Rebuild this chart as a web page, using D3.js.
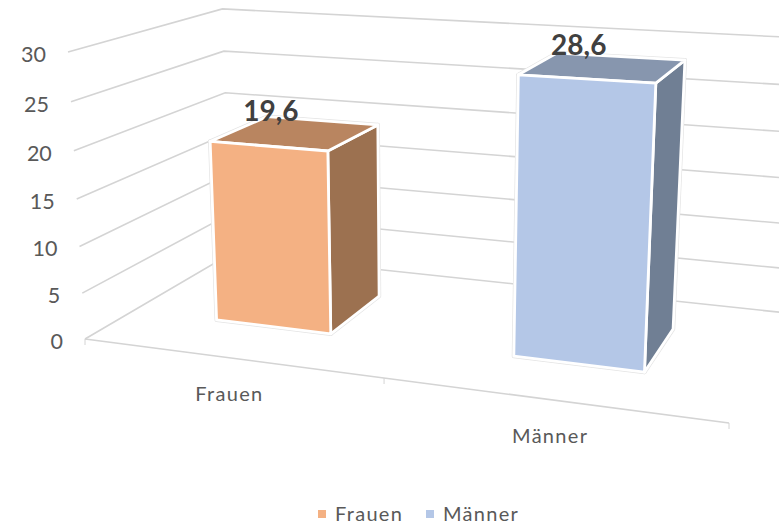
<!DOCTYPE html>
<html>
<head>
<meta charset="utf-8">
<script src="https://cdnjs.cloudflare.com/ajax/libs/d3/7.8.5/d3.min.js"></script>
<style>
  html, body { margin: 0; padding: 0; background: #fff; }
  svg { display: block; }
  text { font-family: Lato, "Open Sans", sans-serif; fill: #595959; }
</style>
</head>
<body>
<div class="chart"></div>
<script>
var width = 779;
var height = 526;

// data
var categories = ["Frauen", "Männer"];
var values = [19.6, 28.6];
var yTicks = [0, 5, 10, 15, 20, 25, 30];

// colors per category: front, top, side
var frontColors = ["#F4B183", "#B4C7E7"];
var topColors = ["#B98560", "#8796AE"];
var sideColors = ["#9C7150", "#707F94"];
var gridColor = "#d4d4d4";

const svg = d3.select(".chart")
  .append("svg")
  .attr("width", width)
  .attr("height", height);

// unit cube scales, u = along categories, v = up, t = into the picture
var xBand = d3.scaleBand().domain(categories).range([0, 1]).paddingInner(0.6).paddingOuter(0.3);
var yScale = d3.scaleLinear().domain([0, 30]).range([0, 1]);
var barDepth = [0.29, 0.68];
var wallDepth = 0.95;

// perspective of the 3d box, fitted on the cube corners
var corner0 = [85, 339];
var xEnd = [729, 423], xW = 0.867;
var yEnd = [68, 52], yW = 0.952;
var zEnd = [237, 250], zW = 1.19;

function project(u, v, t) {
  var w = 1 + u * (xW - 1) + v * (yW - 1) + t * (zW - 1);
  var px = corner0[0] + u * (xW * xEnd[0] - corner0[0]) + v * (yW * yEnd[0] - corner0[0]) + t * (zW * zEnd[0] - corner0[0]);
  var py = corner0[1] + u * (xW * xEnd[1] - corner0[1]) + v * (yW * yEnd[1] - corner0[1]) + t * (zW * zEnd[1] - corner0[1]);
  return [px / w, py / w];
}

var line = d3.line();
var closedLine = d3.line().curve(d3.curveLinearClosed);

// walls
var grid = svg.append("g").attr("fill", "none").attr("stroke", gridColor).attr("stroke-width", 1.6);
grid.selectAll("path")
  .data(yTicks)
  .enter()
  .append("path")
  .attr("d", d => {
    var v = yScale(d);
    return line([project(0, v, 0), project(0, v, wallDepth), project(1, v, wallDepth)]);
  });

// category axis with ticks
var axis = svg.append("g").attr("fill", "none").attr("stroke", gridColor).attr("stroke-width", 1.6);
axis.append("path").attr("d", line([project(0, 0, 0), project(1, 0, 0)]));
axis.selectAll(".tick")
  .data([0, 0.5, 1])
  .enter()
  .append("path")
  .attr("class", "tick")
  .attr("stroke-width", 1)
  .attr("d", d => {
    var p = project(d, 0, 0);
    return line([p, [p[0], p[1] + 6]]);
  });

// y labels
svg.append("g").selectAll("text")
  .data(yTicks)
  .enter()
  .append("text")
  .attr("text-anchor", "end")
  .attr("font-size", 21.5)
  .attr("x", d => project(0, yScale(d), 0)[0] - 22)
  .attr("y", d => project(0, yScale(d), 0)[1] + 10)
  .text(d => d);

// category labels
svg.append("g").selectAll("text")
  .data(categories)
  .enter()
  .append("text")
  .attr("text-anchor", "middle")
  .attr("font-size", 20)
  .attr("letter-spacing", 1.3)
  .attr("x", d => project(xBand(d) + xBand.bandwidth() / 2, 0, 0)[0])
  .attr("y", d => project(xBand(d) + xBand.bandwidth() / 2, 0, 0)[1] + 43)
  .text(d => d);

// bars
var bars = svg.append("g").selectAll("g")
  .data(categories)
  .enter()
  .append("g");

function faces(i) {
  var u0 = xBand(categories[i]), u1 = u0 + xBand.bandwidth();
  var t0 = barDepth[0], t1 = barDepth[1];
  var v = yScale(values[i]);
  return {
    front: [project(u0, 0, t0), project(u1, 0, t0), project(u1, v, t0), project(u0, v, t0)],
    cap: [project(u0, v, t0), project(u1, v, t0), project(u1, v, t1), project(u0, v, t1)],
    side: [project(u1, 0, t0), project(u1, 0, t1), project(u1, v, t1), project(u1, v, t0)]
  };
}

bars.each(function (d, i) {
  var f = faces(i);
  var g = d3.select(this).attr("stroke-linejoin", "round");
  // faint halo round the white edge
  [f.front, f.cap, f.side].forEach(q => {
    g.append("path").attr("d", closedLine(q)).attr("fill", "none").attr("stroke", "#e4e4e4").attr("stroke-width", 4.2);
  });
  g.append("path").attr("d", closedLine(f.side)).attr("fill", sideColors[i]).attr("stroke", "#fff").attr("stroke-width", 2.8);
  g.append("path").attr("d", closedLine(f.cap)).attr("fill", topColors[i]).attr("stroke", "#fff").attr("stroke-width", 2.8);
  g.append("path").attr("d", closedLine(f.front)).attr("fill", frontColors[i]).attr("stroke", "#fff").attr("stroke-width", 2.8);
});

// value labels above the bar tops
svg.append("g").selectAll("text")
  .data(values)
  .enter()
  .append("text")
  .attr("text-anchor", "middle")
  .attr("font-size", 28)
  .attr("font-weight", 700)
  .style("fill", "#404040")
  .attr("x", (d, i) => project(xBand(categories[i]) + xBand.bandwidth() / 2, yScale(d), (barDepth[0] + barDepth[1]) / 2)[0] - 25)
  .attr("y", (d, i) => project(xBand(categories[i]) + xBand.bandwidth() / 2, yScale(d), (barDepth[0] + barDepth[1]) / 2)[1] - 12)
  .text(d => String(d).replace(".", ","));

// legend
var legendX = d3.scaleOrdinal().domain(categories).range([318, 426]);
var legend = svg.append("g").selectAll("g")
  .data(categories)
  .enter()
  .append("g")
  .attr("transform", d => "translate(" + legendX(d) + ",510)");
legend.append("rect")
  .attr("width", 8)
  .attr("height", 8)
  .attr("fill", (d, i) => frontColors[i]);
legend.append("text")
  .attr("x", 17)
  .attr("y", 11)
  .attr("font-size", 20)
  .attr("letter-spacing", 1.3)
  .text(d => d);
</script>
</body>
</html>
